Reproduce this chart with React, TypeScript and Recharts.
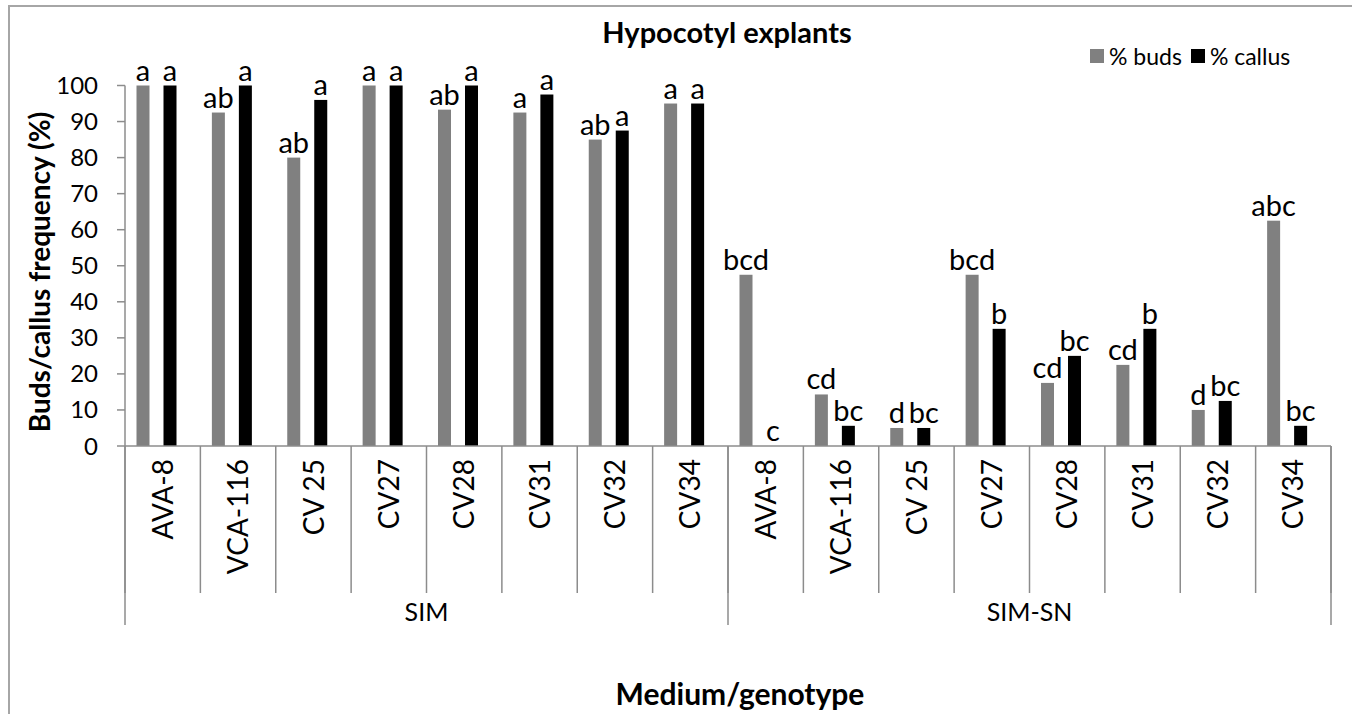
import { BarChart, Bar, XAxis, YAxis, LabelList, Legend } from 'recharts'

const genotypes = ['AVA-8', 'VCA-116', 'CV 25', 'CV27', 'CV28', 'CV31', 'CV32', 'CV34']
const media = ['SIM', 'SIM-SN']

// % buds / % callus per genotype, one array per medium
const budsSIM = [100, 92.5, 80, 100, 93.3, 92.5, 85, 95]
const callusSIM = [100, 100, 96, 100, 100, 97.5, 87.5, 95]
const budsSIMSN = [47.5, 14.3, 5, 47.5, 17.5, 22.5, 10, 62.5]
const callusSIMSN = [0, 5.6, 5, 32.5, 25, 32.5, 12.5, 5.6]

// significance letters
const budsLettersSIM = ['a', 'ab', 'ab', 'a', 'ab', 'a', 'ab', 'a']
const callusLettersSIM = ['a', 'a', 'a', 'a', 'a', 'a', 'a', 'a']
const budsLettersSIMSN = ['bcd', 'cd', 'd', 'bcd', 'cd', 'cd', 'd', 'abc']
const callusLettersSIMSN = ['c', 'bc', 'bc', 'b', 'bc', 'b', 'bc', 'bc']

const yTicks = [0, 10, 20, 30, 40, 50, 60, 70, 80, 90, 100]

const rows = [
    ...genotypes.map((g, i) => ({
        name: g, group: media[0],
        buds: budsSIM[i], callus: callusSIM[i],
        budsL: budsLettersSIM[i], callusL: callusLettersSIM[i],
    })),
    ...genotypes.map((g, i) => ({
        name: g, group: media[1],
        buds: budsSIMSN[i], callus: callusSIMSN[i],
        budsL: budsLettersSIMSN[i], callusL: callusLettersSIMSN[i],
    })),
]

const FONT = 'Lato, "Open Sans", sans-serif'
const LINE = '#8c8c8c'
const SHIFT = -6.5 // Excel draws the bar pair a little left of the category centre
const TIER1 = 147
const TIER2 = 32

const BarShape = (props: any) => {
    const { x, y, width, height, fill } = props
    if (!height || height <= 0) return null
    return <rect x={x + SHIFT} y={y} width={width} height={height} fill={fill} />
}

const letterLabel = (props: any) => {
    const { x, y, width, value } = props
    return (
        <text x={x + width / 2 + SHIFT} y={y - 5} textAnchor="middle" fontSize={29} fontFamily={FONT} fill="#000">
            {value}
        </text>
    )
}

const CatTick = (props: any) => {
    const { x, y, payload } = props
    const half = payload.offset || 37.7
    return (
        <g>
            <line x1={x - half} x2={x - half} y1={y} y2={y + TIER1} stroke={LINE} strokeWidth={1.5} />
            {payload.index === rows.length - 1 && (
                <line x1={x + half} x2={x + half} y1={y} y2={y + TIER1} stroke={LINE} strokeWidth={1.5} />
            )}
            <text
                transform={`translate(${x},${y + 13}) rotate(-90)`}
                textAnchor="end"
                dy="0.36em"
                fontSize={28}
                fontFamily={FONT}
                fill="#000"
            >
                {payload.value}
            </text>
        </g>
    )
}

const GroupTick = (props: any) => {
    const { x, y, payload } = props
    const half = payload.offset || 37.7
    const i = payload.index
    const n = genotypes.length
    return (
        <g>
            {i % n === 0 && (
                <line x1={x - half} x2={x - half} y1={y - TIER1} y2={y + TIER2} stroke={LINE} strokeWidth={1.5} />
            )}
            {i === rows.length - 1 && (
                <line x1={x + half} x2={x + half} y1={y - TIER1} y2={y + TIER2} stroke={LINE} strokeWidth={1.5} />
            )}
            {i % n === n / 2 && (
                <text x={x - half} y={y + 19} dy="0.36em" textAnchor="middle" fontSize={25} fontFamily={FONT} fill="#000">
                    {payload.value}
                </text>
            )}
        </g>
    )
}

const legendContent = () => (
    <div style={{ display: 'flex', alignItems: 'center', fontFamily: FONT, fontSize: 23, color: '#000' }}>
        <span style={{ width: 14, height: 14, background: '#808080', display: 'inline-block', marginRight: 5 }} />
        <span style={{ marginRight: 9 }}>% buds</span>
        <span style={{ width: 14, height: 14, background: '#000', display: 'inline-block', marginRight: 5 }} />
        <span>% callus</span>
    </div>
)

export default function App() {
    return (
        <div style={{ position: 'absolute', left: 0, top: 0, width: 1352, height: 714, overflow: 'hidden', background: '#fff' }}>
            <div style={{ position: 'absolute', left: 8, top: 5, width: 1500, height: 900, border: '2px solid #a6a6a6' }} />
            <div
                style={{
                    position: 'absolute', left: 727, top: 14, transform: 'translateX(-50%)',
                    fontFamily: FONT, fontWeight: 700, fontSize: 29, lineHeight: '36px', whiteSpace: 'nowrap', color: '#000',
                }}
            >
                Hypocotyl explants
            </div>
            <div style={{ position: 'absolute', left: 0, top: 0 }}>
                <BarChart
                    width={1352}
                    height={714}
                    data={rows}
                    margin={{ top: 85.5, right: 21, bottom: 89, left: 0 }}
                    barSize={13}
                    barGap={14}
                >
                    <YAxis
                        type="number"
                        domain={[0, 100]}
                        ticks={yTicks}
                        interval={0}
                        width={125}
                        tickSize={8}
                        tickMargin={19}
                        axisLine={{ stroke: LINE, strokeWidth: 1.5 }}
                        tickLine={{ stroke: LINE, strokeWidth: 1.5 }}
                        tick={{ fontSize: 24, fontFamily: FONT, fill: '#000' }}
                        label={{
                            content: () => (
                                <text
                                    transform="translate(40,272) rotate(-90)"
                                    textAnchor="middle"
                                    dy="0.36em"
                                    fontSize={28}
                                    fontWeight={700}
                                    fontFamily={FONT}
                                    fill="#000"
                                >
                                    Buds/callus frequency (%)
                                </text>
                            ),
                        }}
                    />
                    <XAxis
                        dataKey="name"
                        interval={0}
                        height={TIER1}
                        tickSize={0}
                        tickMargin={0}
                        tickLine={false}
                        axisLine={{ stroke: LINE, strokeWidth: 1.5 }}
                        tick={<CatTick />}
                    />
                    <XAxis
                        xAxisId="grp"
                        dataKey="group"
                        interval={0}
                        height={TIER2}
                        tickSize={0}
                        tickMargin={0}
                        tickLine={false}
                        axisLine={false}
                        tick={<GroupTick />}
                        label={{
                            content: (p: any) => {
                                const vb = p.viewBox || { x: 125, width: 1206 }
                                return (
                                    <text
                                        x={vb.x + vb.width / 2 + 12}
                                        y={694}
                                        dy="0.36em"
                                        textAnchor="middle"
                                        fontSize={30}
                                        fontWeight={700}
                                        fontFamily={FONT}
                                        fill="#000"
                                    >
                                        Medium/genotype
                                    </text>
                                )
                            },
                        }}
                    />
                    <Legend
                        verticalAlign="middle"
                        align="center"
                        layout="horizontal"
                        content={legendContent}
                        wrapperStyle={{ top: 42, left: 1090, width: 260, height: 30 }}
                    />
                    <Bar dataKey="buds" name="% buds" fill="#808080" shape={BarShape} isAnimationActive={false}>
                        <LabelList dataKey="budsL" content={letterLabel} />
                    </Bar>
                    <Bar dataKey="callus" name="% callus" fill="#000000" shape={BarShape} isAnimationActive={false}>
                        <LabelList dataKey="callusL" content={letterLabel} />
                    </Bar>
                </BarChart>
            </div>
        </div>
    )
}
